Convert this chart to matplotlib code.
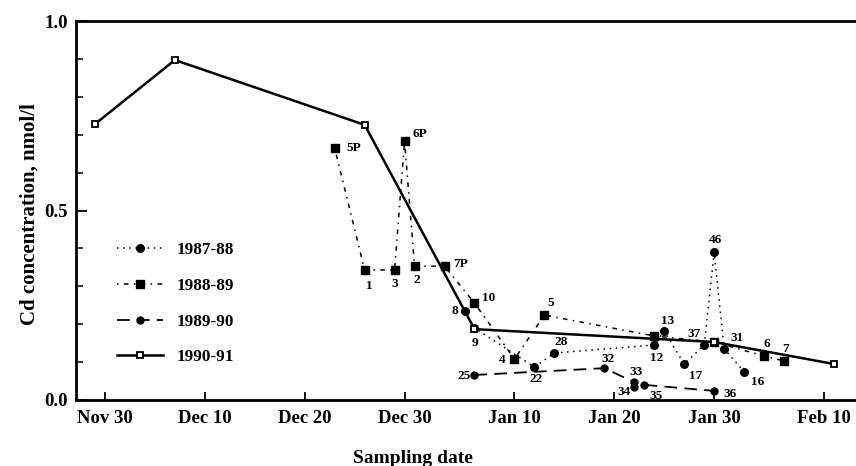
import matplotlib
matplotlib.use('Agg')
import matplotlib.pyplot as plt
import matplotlib.dates as mdates
import pandas as pd
from matplotlib.ticker import MultipleLocator, FixedLocator, FixedFormatter

plt.rcParams['font.family'] = ['Liberation Serif', 'DejaVu Serif']
plt.rcParams['font.weight'] = 'bold'

# ---------------- data (seasons mapped onto a common Nov-Feb axis) ----------------
dates_8788 = ['1991-01-05', '1991-01-06', '1991-01-12', '1991-01-14', '1991-01-24', '1991-01-25',
              '1991-01-27', '1991-01-29', '1991-01-30', '1991-01-31', '1991-02-02']
cd_8788 = [0.235, 0.19, 0.087, 0.124, 0.145, 0.182, 0.095, 0.145, 0.39, 0.135, 0.074]
labels_8788 = ['8', '9', '22', '28', '12', '13', '17', '37', '46', '31', '16']

dates_8889 = ['1990-12-23', '1990-12-26', '1990-12-29', '1990-12-30', '1990-12-31', '1991-01-03',
              '1991-01-06', '1991-01-10', '1991-01-13', '1991-01-24', '1991-01-30', '1991-02-04',
              '1991-02-06']
cd_8889 = [0.665, 0.343, 0.343, 0.683, 0.353, 0.353, 0.256, 0.108, 0.224, 0.169, 0.153, 0.116, 0.103]
labels_8889 = ['5P', '1', '3', '6P', '2', '7P', '10', '4', '5', '', '', '6', '7']

dates_8990 = ['1991-01-06', '1991-01-19', '1991-01-22', '1991-01-22', '1991-01-23', '1991-01-30']
cd_8990 = [0.066, 0.084, 0.047, 0.034, 0.040, 0.024]
labels_8990 = ['25', '32', '33', '34', '35', '36']

dates_9091 = ['1990-11-29', '1990-12-07', '1990-12-26', '1991-01-06', '1991-01-30', '1991-02-11']
cd_9091 = [0.728, 0.897, 0.726, 0.187, 0.153, 0.095]

tick_dates = ['1990-11-30', '1990-12-10', '1990-12-20', '1990-12-30', '1991-01-10',
              '1991-01-20', '1991-01-30', '1991-02-10']
tick_labels = ['Nov 30', 'Dec 10', 'Dec 20', 'Dec 30', 'Jan 10', 'Jan 20', 'Jan 30', 'Feb 10']

# ---------------- label offsets (pixels) ----------------
off_8788 = [(-10, 0), (0, -15), (2, -12), (7, 11), (2, -13), (3, 10), (11, -12), (-10, 11),
            (1, 12), (13, 11), (13, -10)]
off_8889 = [(19, 0), (5, -16), (0, -14), (15, 7), (2, -14), (16, 2), (14, 5), (-12, -1),
            (6, 12), (0, 0), (0, 0), (3, 12), (1, 12)]
off_8990 = [(-10, -1), (4, 9), (2, 10), (-10, -5), (12, -11), (16, -3)]


def dn(lst):
    return mdates.date2num(pd.to_datetime(lst))


fig = plt.figure(figsize=(8.56, 4.66), dpi=100)
ax = fig.add_axes([76 / 856, 1 - 400 / 466, 1 - 76 / 856, 379 / 466])

ax.plot(dn(dates_8788), cd_8788, linestyle=(0, (1, 3)), color='black', lw=1.1,
        marker='o', ms=5.5, mfc='black', mec='black', label='1987-88', zorder=3)
ax.plot(dn(dates_8889), cd_8889, linestyle=(0, (1, 3.5, 3, 3.5)), color='black', lw=1.1,
        marker='s', ms=5.5, mfc='black', mec='black', label='1988-89', zorder=3)
ax.plot(dn(dates_8990), cd_8990, linestyle=(0, (7, 4)), color='black', lw=1.3,
        marker='o', ms=5, mfc='black', mec='black', label='1989-90', zorder=3)
ax.plot(dn(dates_9091), cd_9091, linestyle='-', color='black', lw=1.8,
        marker='s', ms=5, mfc='white', mec='black', mew=1.3, label='1990-91', zorder=4)

for dates, vals, labs, offs in [(dates_8788, cd_8788, labels_8788, off_8788),
                                (dates_8889, cd_8889, labels_8889, off_8889),
                                (dates_8990, cd_8990, labels_8990, off_8990)]:
    for x, y, t, o in zip(dn(dates), vals, labs, offs):
        if t:
            ax.annotate(t, (x, y), xytext=o, textcoords='offset pixels',
                        ha='center', va='center', fontsize=9.5, fontweight='bold')

x0 = mdates.date2num(pd.Timestamp('1990-11-30'))
ax.set_xlim(x0 - 2.9, x0 + 75.2)
ax.set_ylim(0, 1.0)

ax.xaxis.set_major_locator(FixedLocator(dn(tick_dates)))
ax.xaxis.set_major_formatter(FixedFormatter(tick_labels))
ax.yaxis.set_major_locator(FixedLocator([0.0, 0.5, 1.0]))
ax.yaxis.set_major_formatter(FixedFormatter(['0.0', '0.5', '1.0']))
ax.yaxis.set_minor_locator(MultipleLocator(0.1))

ax.tick_params(axis='x', which='major', direction='in', length=6, width=1.3,
               labelsize=13.5, pad=7)
ax.tick_params(axis='y', which='major', direction='in', length=8, width=1.3,
               labelsize=13.5, pad=6)
ax.tick_params(axis='y', which='minor', direction='in', length=5, width=1.1)

for s in ['left', 'bottom', 'top']:
    ax.spines[s].set_linewidth(2)
ax.spines['right'].set_visible(False)

ax.set_ylabel('Cd concentration, nmol/l', fontsize=15, fontweight='bold')
ax.yaxis.set_label_coords(-0.047, 0.49)
ax.set_xlabel('Sampling date', fontsize=14, fontweight='bold')
ax.xaxis.set_label_coords(0.432, -0.132)

leg = ax.legend(loc='upper left', bbox_to_anchor=(0.044, 0.435), frameon=False,
                fontsize=12.3, handlelength=2.7, handletextpad=0.75, labelspacing=1.16,
                borderaxespad=0)

fig.savefig('out.png', dpi=100)
